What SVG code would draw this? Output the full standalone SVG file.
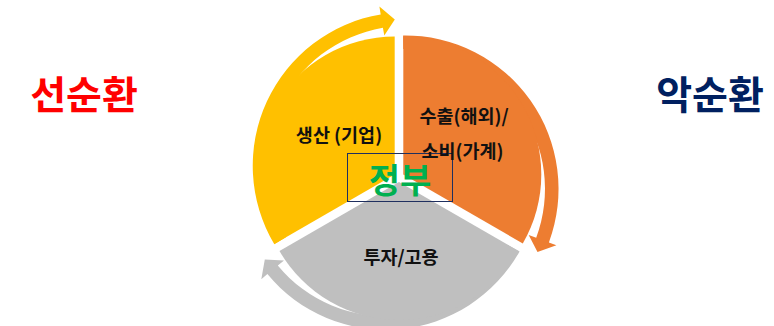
<svg xmlns="http://www.w3.org/2000/svg" width="774" height="326" viewBox="0 0 774 326">
  <style>
    .lbl { font-family: "Noto Sans CJK KR", "Noto Sans", sans-serif; font-weight: bold; font-size: 18.5px; fill: #111111; text-anchor: middle; }
    .big { font-family: "Noto Sans CJK KR", "Noto Sans", sans-serif; font-weight: bold; font-size: 39px; text-anchor: middle; }
    .yel { fill: #FFC000; }
    .org { fill: #ED7D31; }
    .gry { fill: #BFBFBF; }
  </style>
  <rect width="774" height="326" fill="#FFFFFF"/>
  <g id="connectors">
    <path id="arrow-yellow" class="yel" d="M 274.3 244.2 A 153.5 153.5 0 0 1 380.7 14.4 L 379.4 6.6 L 394.8 19.5 L 384.3 35.6 L 382.9 27.8 A 140 140 0 0 0 285.9 237.3 Z"/>
    <path id="arrow-orange" class="org" d="M 403.1 35.4 A 153.5 153.5 0 0 1 548.9 242.4 L 556.4 245.2 L 537.5 252.1 L 528.7 234.9 L 536.2 237.7 A 140 140 0 0 0 403.3 48.9 Z"/>
    <path id="arrow-gray" class="gry" d="M 519.6 251.4 A 153.5 153.5 0 0 1 267.4 274.1 L 261.3 279.2 L 264.8 259.4 L 284.0 260.4 L 277.8 265.5 A 140 140 0 0 0 507.8 244.8 Z"/>
  </g>
  <g id="node-production">
    <path class="yel" d="M 394.7 174.5 L 275.19 243.5 A 138 138 0 0 1 394.7 36.5 Z"/>
    <text class="lbl" x="339" y="142">생산 (기업)</text>
  </g>
  <g id="node-consumption">
    <path class="org" d="M 403.3 174.5 L 403.3 36.5 A 138 138 0 0 1 522.81 243.5 Z"/>
    <text class="lbl" x="464" y="123">수출(해외)/</text>
  </g>
  <g id="node-investment">
    <path class="gry" d="M 399 182 L 518.51 251 A 138 138 0 0 1 279.49 251 Z"/>
    <text class="lbl" x="401" y="264">투자/고용</text>
  </g>
  <g id="node-government">
    <rect x="347.5" y="153.5" width="105" height="48" fill="none" stroke="#1F2F5F" stroke-width="1"/>
    <text x="400" y="193" font-family="'Noto Sans CJK KR', 'Noto Sans', sans-serif" font-weight="bold" font-size="34" fill="#00B050" text-anchor="middle">정부</text>
  </g>
  <text class="lbl" x="462.5" y="158">소비(가계)</text>
  <g id="node-virtuous">
    <text class="big" x="84" y="109" fill="#FF0000">선순환</text>
  </g>
  <g id="node-vicious">
    <text class="big" x="710" y="109" fill="#002060">악순환</text>
  </g>
</svg>
